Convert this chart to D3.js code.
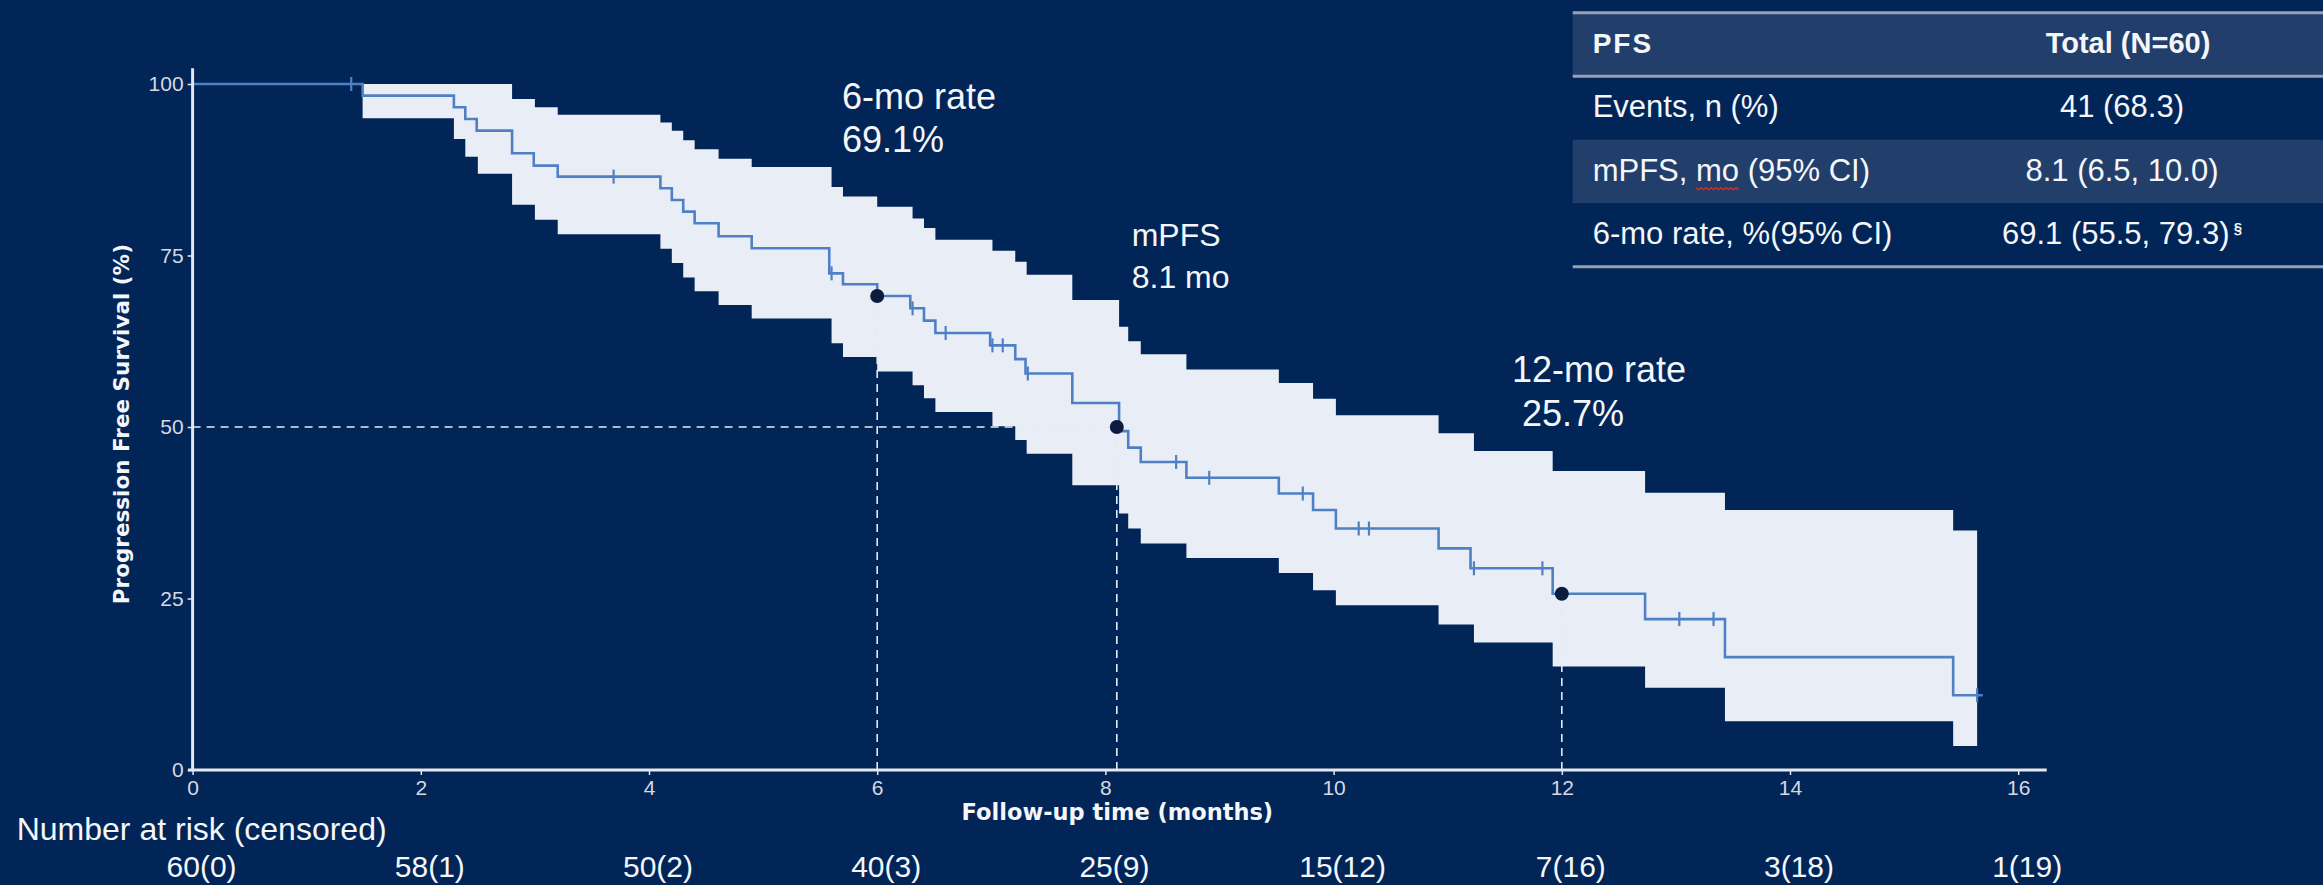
<!DOCTYPE html>
<html>
<head>
<meta charset="utf-8">
<script src="https://cdn.jsdelivr.net/npm/d3@7"></script>
<style>
  html, body { margin: 0; padding: 0; background: #012557; }
  svg { display: block; }
</style>
</head>
<body>
<svg id="chart" width="2323" height="885"></svg>
<script>
// ---- Kaplan-Meier estimate (months, % progression free) ----
const kmTimes = [0, 1.49, 2.29, 2.39, 2.49, 2.80, 2.99, 3.20, 4.10, 4.20, 4.30, 4.40, 4.61, 4.90,
  5.58, 5.70, 6.00, 6.29, 6.41, 6.51, 6.99, 7.21, 7.30, 7.71, 8.12, 8.20, 8.31, 8.71, 9.52, 9.82,
  10.02, 10.92, 11.20, 11.92, 12.73, 13.43, 15.43, 15.69];
const kmSurv = [100, 98.3, 96.6, 94.9, 93.2, 89.9, 88.1, 86.5, 84.8, 83.1, 81.4, 79.7, 77.8, 76.05,
  72.4, 70.8, 69.1, 67.3, 65.5, 63.7, 61.9, 59.9, 57.8, 53.5, 49.4, 47.0, 44.9, 42.6, 40.3, 37.9,
  35.2, 32.3, 29.4, 25.7, 22.0, 16.45, 10.9, 10.9];

// censored observations (months)
const censorTimes = [1.39, 3.69, 5.60, 6.31, 6.60, 7.01, 7.10, 7.32, 8.62, 8.91, 9.73, 10.22, 10.31,
  11.23, 11.83, 13.03, 13.33, 15.64];

// 95% confidence band
const ciTimes = [1.49, 2.29, 2.39, 2.50, 2.80, 3.00, 3.20, 4.10, 4.20, 4.30, 4.40, 4.61, 4.90, 5.60,
  5.70, 6.00, 6.31, 6.41, 6.51, 7.01, 7.21, 7.31, 7.71, 8.12, 8.20, 8.31, 8.71, 9.52, 9.82, 10.02,
  10.92, 11.23, 11.92, 12.73, 13.43, 15.43, 15.64];
const ciUpper = [100, 100, 100, 100, 97.8, 96.6, 95.5, 94.4, 93.2, 91.8, 90.5, 89.1, 87.9, 85.0,
  83.6, 82.1, 80.4, 79.0, 77.3, 75.7, 74.1, 72.2, 68.5, 64.6, 62.5, 60.6, 58.4, 56.4, 54.1, 51.7,
  49.1, 46.5, 43.6, 40.4, 37.9, 34.9, 34.9];
const ciLower = [95.0, 92.0, 89.4, 86.9, 82.4, 80.2, 78.1, 76.0, 73.9, 71.8, 69.8, 67.8, 65.8, 62.2,
  60.2, 58.1, 56.1, 54.2, 52.2, 50.1, 48.1, 46.1, 41.5, 37.4, 35.2, 33.0, 30.9, 28.7, 26.2, 24.0,
  21.2, 18.6, 15.1, 12.0, 7.1, 3.5, 3.5];

// milestones: 6-month rate, median PFS, 12-month rate
const milestoneTimes = [6, 8.1, 12];
const milestoneRates = [69.1, 50, 25.7];
const milestoneLabels = [["6-mo rate", "69.1%"], ["mPFS", "8.1 mo"], ["12-mo rate", " 25.7%"]];

// axes
const xTicks = [0, 2, 4, 6, 8, 10, 12, 14, 16];
const yTicks = [0, 25, 50, 75, 100];
const xTitle = "Follow-up time (months)";
const yTitle = "Progression Free Survival (%)";

// number at risk
const riskTitle = "Number at risk (censored)";
const riskTimes = [0, 2, 4, 6, 8, 10, 12, 14, 16];
const riskLabels = ["60(0)", "58(1)", "50(2)", "40(3)", "25(9)", "15(12)", "7(16)", "3(18)", "1(19)"];

// summary table
const tableHeader = ["PFS", "Total (N=60)"];
const tableRowLabels = ["Events, n (%)", "mPFS, mo (95% CI)", "6-mo rate, %(95% CI)"];
const tableRowValues = ["41 (68.3)", "8.1 (6.5, 10.0)", "69.1 (55.5, 79.3)"];
const tableFootnote = ["", "", "§"];

// ---- styling ----
const BG = "#012557";
const BAND = "#e9eef6";
const LINE = "#4f80c6";
const AXIS = "#e4e7ee";
const TICKTXT = "#d6d9e0";
const WHITE = "#f4f6fa";
const SHADE = "#223f6b";
const RULE = "#98a1b3";
const FONT = "'Liberation Sans', Arial, sans-serif";
const FONT_B = "'DejaVu Sans', 'Liberation Sans', sans-serif";

const svg = d3.select("#chart");
svg.append("rect").attr("width", 2323).attr("height", 885).attr("fill", BG);

const x = d3.scaleLinear().domain([0, 16]).range([192.6, 2018.2]);
const y = d3.scaleLinear().domain([0, 100]).range([770, 84]);

// confidence band
const band = d3.area()
  .curve(d3.curveStepAfter)
  .x((d, i) => x(ciTimes[i]))
  .y0((d, i) => y(ciLower[i]))
  .y1((d, i) => y(ciUpper[i]));
svg.append("path").datum(ciTimes).attr("d", band).attr("fill", BAND);

// reference lines to the milestones
const refs = svg.append("g")
  .attr("stroke", "#e6eaf1").attr("stroke-width", 1.6).attr("stroke-dasharray", "8,6").attr("fill", "none");
refs.append("line")
  .attr("x1", x(0)).attr("x2", x(milestoneTimes[1]))
  .attr("y1", y(milestoneRates[1])).attr("y2", y(milestoneRates[1]));
milestoneTimes.forEach((t, i) => {
  refs.append("line")
    .attr("x1", x(t)).attr("x2", x(t))
    .attr("y1", y(0)).attr("y2", y(milestoneRates[i]));
});

// survival curve
const km = d3.line()
  .curve(d3.curveStepAfter)
  .x((d, i) => x(kmTimes[i]))
  .y((d, i) => y(kmSurv[i]));
svg.append("path").datum(kmTimes).attr("d", km)
  .attr("fill", "none").attr("stroke", LINE).attr("stroke-width", 2.6);

// censor marks
const survAt = t => kmSurv[d3.bisectRight(kmTimes, t) - 1];
svg.append("g").selectAll("line").data(censorTimes).join("line")
  .attr("x1", d => x(d)).attr("x2", d => x(d))
  .attr("y1", d => y(survAt(d)) - 7).attr("y2", d => y(survAt(d)) + 7)
  .attr("stroke", LINE).attr("stroke-width", 2.2);

// milestone dots
svg.append("g").selectAll("circle").data(milestoneTimes).join("circle")
  .attr("cx", d => x(d)).attr("cy", (d, i) => y(milestoneRates[i]))
  .attr("r", 7).attr("fill", "#0b1c3f");

// axes
const gx = svg.append("g").attr("transform", `translate(0,${y(0)})`)
  .call(d3.axisBottom(x).tickValues(xTicks).tickSize(5).tickPadding(5));
const gy = svg.append("g").attr("transform", `translate(${x(0)},0)`)
  .call(d3.axisLeft(y).tickValues(yTicks).tickSize(5).tickPadding(4));
[gx, gy].forEach(g => {
  g.select(".domain").remove();
  g.selectAll(".tick line").attr("stroke", AXIS).attr("stroke-width", 1.5);
  g.selectAll(".tick text").attr("fill", TICKTXT).attr("font-size", 21).attr("font-family", FONT);
});
svg.append("line")
  .attr("x1", x(-0.04)).attr("x2", x(16.25)).attr("y1", y(0)).attr("y2", y(0))
  .attr("stroke", AXIS).attr("stroke-width", 3);
svg.append("line")
  .attr("x1", x(0)).attr("x2", x(0)).attr("y1", y(0) + 1).attr("y2", y(102.3))
  .attr("stroke", AXIS).attr("stroke-width", 3);

// axis titles
const xMid = (x(-0.04) + x(16.25)) / 2;
svg.append("text").text(xTitle)
  .attr("x", xMid).attr("y", 820).attr("text-anchor", "middle")
  .attr("font-family", FONT_B).attr("font-weight", "bold").attr("font-size", 22.5).attr("fill", WHITE);
svg.append("text").text(yTitle)
  .attr("transform", `translate(129,${(y(0) + y(102.3)) / 2 + 5}) rotate(-90)`)
  .attr("text-anchor", "middle")
  .attr("font-family", FONT_B).attr("font-weight", "bold").attr("font-size", 21.5).attr("fill", WHITE);

// milestone annotations
const annPos = [
  { x: 842, y: 109.3, size: 36, gap: 42.4 },
  { x: 1131.7, y: 246, size: 32, gap: 41.7 },
  { x: 1512, y: 381.7, size: 36, gap: 44.3 }
];
milestoneLabels.forEach((lines, i) => {
  const p = annPos[i];
  const t = svg.append("text")
    .attr("font-family", FONT).attr("font-size", p.size).attr("fill", WHITE)
    .attr("xml:space", "preserve");
  lines.forEach((s, j) => {
    t.append("tspan").attr("x", p.x).attr("y", p.y + j * p.gap).text(s);
  });
});

// number at risk
svg.append("text").text(riskTitle)
  .attr("x", 16.7).attr("y", 840)
  .attr("font-family", FONT).attr("font-size", 32).attr("fill", WHITE);
svg.append("g").selectAll("text").data(riskLabels).join("text")
  .text(d => d)
  .attr("x", (d, i) => x(riskTimes[i]) + 9).attr("y", 877)
  .attr("text-anchor", "middle")
  .attr("font-family", FONT).attr("font-size", 30).attr("fill", WHITE);

// summary table
const tbl = svg.append("g");
const tLeft = 1572.7, tRight = 2323, tTop = 12.7, rowH = 63.5;
const labelX = 1592.7, valueX = 2122;
tbl.append("rect").attr("x", tLeft).attr("y", tTop).attr("width", tRight - tLeft).attr("height", rowH).attr("fill", SHADE);
tbl.append("rect").attr("x", tLeft).attr("y", tTop + 2 * rowH).attr("width", tRight - tLeft).attr("height", rowH).attr("fill", SHADE);
[tTop, tTop + rowH, tTop + 4 * rowH].forEach(yy => {
  tbl.append("line").attr("x1", tLeft).attr("x2", tRight).attr("y1", yy).attr("y2", yy)
    .attr("stroke", RULE).attr("stroke-width", 3);
});
tbl.append("text").text(tableHeader[0])
  .attr("x", labelX).attr("y", tTop + 40.6)
  .attr("font-family", FONT).attr("font-weight", "bold").attr("font-size", 28)
  .attr("letter-spacing", 2).attr("fill", WHITE);
tbl.append("text").text(tableHeader[1])
  .attr("x", valueX + 6).attr("y", tTop + 40.6).attr("text-anchor", "middle")
  .attr("font-family", FONT).attr("font-weight", "bold").attr("font-size", 29).attr("fill", WHITE);

tableRowLabels.forEach((lab, i) => {
  const base = tTop + (i + 1) * rowH + 41;
  const lt = tbl.append("text").text(lab)
    .attr("x", labelX).attr("y", base)
    .attr("font-family", FONT).attr("font-size", 31).attr("fill", WHITE);
  const vt = tbl.append("text")
    .attr("x", valueX).attr("y", base).attr("text-anchor", "middle")
    .attr("font-family", FONT).attr("font-size", 31).attr("fill", WHITE);
  vt.append("tspan").text(tableRowValues[i]);
  if (tableFootnote[i]) {
    vt.append("tspan").text(" " + tableFootnote[i])
      .attr("font-size", 15).attr("font-weight", "bold").attr("dy", -11);
  }
  // proofing squiggle under the abbreviation "mo"
  const k = lab.indexOf(" mo ");
  if (k >= 0) {
    const node = lt.node();
    const x0 = node.getStartPositionOfChar(k + 1).x;
    const x1 = node.getEndPositionOfChar(k + 2).x;
    const pts = [];
    for (let xx = x0, n = 0; xx <= x1; xx += 2.5, n++) pts.push([xx, base + 7 + (n % 2 ? 2 : 0)]);
    tbl.append("path").attr("d", d3.line()(pts))
      .attr("fill", "none").attr("stroke", "#d0312d").attr("stroke-width", 1.4);
  }
});
</script>
</body>
</html>
